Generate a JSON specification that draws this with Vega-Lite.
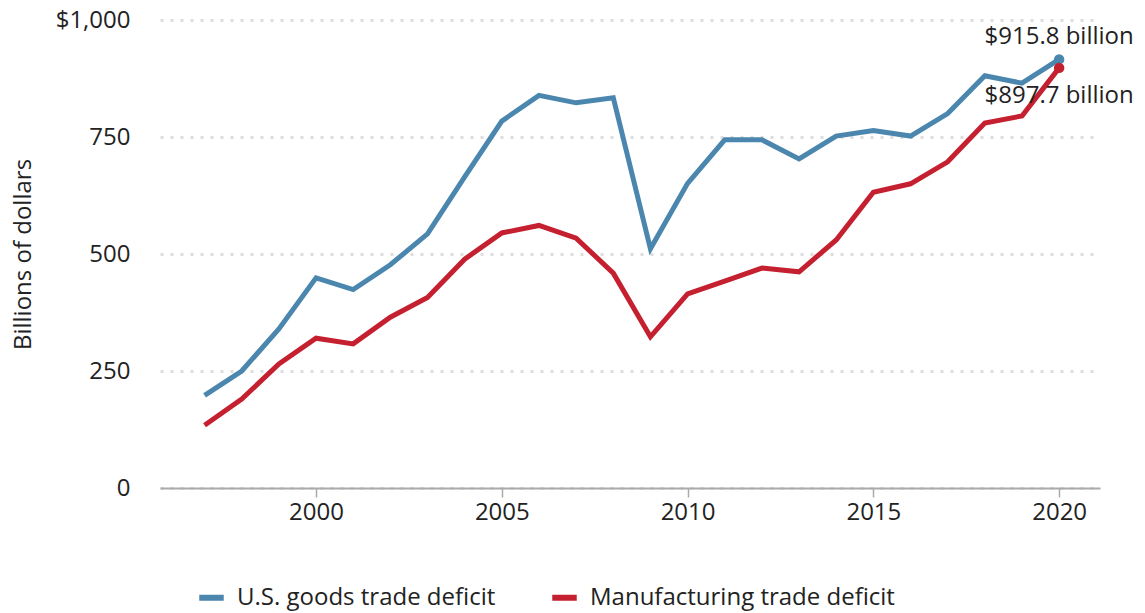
{
  "$schema": "https://vega.github.io/schema/vega-lite/v6.json",
  "autosize": "none",
  "width": 940,
  "height": 468,
  "padding": {"left": 160, "top": 20, "right": 45, "bottom": 125},
  "background": "white",
  "config": {
    "font": "Open Sans",
    "view": {"stroke": null},
    "axis": {"labelFont": "Open Sans", "titleFont": "Open Sans", "labelFontSize": 24, "labelColor": "#222", "titleColor": "#222"}
  },
  "datasets": {
    "trade": [
      {"year": 1997, "series": "U.S. goods trade deficit", "value": 198},
      {"year": 1998, "series": "U.S. goods trade deficit", "value": 250},
      {"year": 1999, "series": "U.S. goods trade deficit", "value": 340},
      {"year": 2000, "series": "U.S. goods trade deficit", "value": 449},
      {"year": 2001, "series": "U.S. goods trade deficit", "value": 424},
      {"year": 2002, "series": "U.S. goods trade deficit", "value": 477},
      {"year": 2003, "series": "U.S. goods trade deficit", "value": 543},
      {"year": 2004, "series": "U.S. goods trade deficit", "value": 665},
      {"year": 2005, "series": "U.S. goods trade deficit", "value": 784},
      {"year": 2006, "series": "U.S. goods trade deficit", "value": 839},
      {"year": 2007, "series": "U.S. goods trade deficit", "value": 823},
      {"year": 2008, "series": "U.S. goods trade deficit", "value": 834},
      {"year": 2009, "series": "U.S. goods trade deficit", "value": 511},
      {"year": 2010, "series": "U.S. goods trade deficit", "value": 651},
      {"year": 2011, "series": "U.S. goods trade deficit", "value": 744},
      {"year": 2012, "series": "U.S. goods trade deficit", "value": 744},
      {"year": 2013, "series": "U.S. goods trade deficit", "value": 703},
      {"year": 2014, "series": "U.S. goods trade deficit", "value": 752},
      {"year": 2015, "series": "U.S. goods trade deficit", "value": 764},
      {"year": 2016, "series": "U.S. goods trade deficit", "value": 752},
      {"year": 2017, "series": "U.S. goods trade deficit", "value": 800},
      {"year": 2018, "series": "U.S. goods trade deficit", "value": 881},
      {"year": 2019, "series": "U.S. goods trade deficit", "value": 865},
      {"year": 2020, "series": "U.S. goods trade deficit", "value": 915.8},
      {"year": 1997, "series": "Manufacturing trade deficit", "value": 134},
      {"year": 1998, "series": "Manufacturing trade deficit", "value": 190},
      {"year": 1999, "series": "Manufacturing trade deficit", "value": 265},
      {"year": 2000, "series": "Manufacturing trade deficit", "value": 320},
      {"year": 2001, "series": "Manufacturing trade deficit", "value": 308},
      {"year": 2002, "series": "Manufacturing trade deficit", "value": 365},
      {"year": 2003, "series": "Manufacturing trade deficit", "value": 407},
      {"year": 2004, "series": "Manufacturing trade deficit", "value": 489},
      {"year": 2005, "series": "Manufacturing trade deficit", "value": 545},
      {"year": 2006, "series": "Manufacturing trade deficit", "value": 561},
      {"year": 2007, "series": "Manufacturing trade deficit", "value": 534},
      {"year": 2008, "series": "Manufacturing trade deficit", "value": 459},
      {"year": 2009, "series": "Manufacturing trade deficit", "value": 323},
      {"year": 2010, "series": "Manufacturing trade deficit", "value": 415},
      {"year": 2011, "series": "Manufacturing trade deficit", "value": 442},
      {"year": 2012, "series": "Manufacturing trade deficit", "value": 470},
      {"year": 2013, "series": "Manufacturing trade deficit", "value": 462},
      {"year": 2014, "series": "Manufacturing trade deficit", "value": 530},
      {"year": 2015, "series": "Manufacturing trade deficit", "value": 632},
      {"year": 2016, "series": "Manufacturing trade deficit", "value": 650},
      {"year": 2017, "series": "Manufacturing trade deficit", "value": 697},
      {"year": 2018, "series": "Manufacturing trade deficit", "value": 780},
      {"year": 2019, "series": "Manufacturing trade deficit", "value": 795},
      {"year": 2020, "series": "Manufacturing trade deficit", "value": 897.7}
    ],
    "notes": [
      {"year": 2020, "series": "U.S. goods trade deficit", "value": 915.8, "label": "$915.8 billion"},
      {"year": 2020, "series": "Manufacturing trade deficit", "value": 897.7, "label": "$897.7 billion"}
    ]
  },
  "encoding": {
    "x": {
      "field": "year", "type": "quantitative",
      "scale": {"domain": [1995.8, 2021.1], "nice": false, "zero": false},
      "axis": {
        "title": null, "values": [2000, 2005, 2010, 2015, 2020], "format": "d",
        "grid": false, "domainColor": "#aaaaaa", "domainWidth": 2,
        "tickColor": "#aaaaaa", "tickWidth": 1.5, "tickSize": 9, "labelPadding": 3
      }
    },
    "y": {
      "field": "value", "type": "quantitative",
      "scale": {"domain": [0, 1000], "nice": false},
      "axis": {
        "title": "Billions of dollars", "titleFontSize": 24, "titleFontWeight": "normal", "titlePadding": 20,
        "values": [0, 250, 500, 750, 1000],
        "labelExpr": "datum.value == 1000 ? '$1,000' : datum.label",
        "domain": false, "ticks": false, "labelPadding": 30,
        "grid": true, "gridColor": "#dddddd", "gridWidth": 3, "gridDash": [3, 7]
      }
    },
    "color": {
      "field": "series", "type": "nominal",
      "scale": {"domain": ["U.S. goods trade deficit", "Manufacturing trade deficit"], "range": ["#4a86ad", "#c5202f"]},
      "legend": {
        "title": null, "orient": "none", "direction": "horizontal",
        "legendX": 36, "legendY": 562,
        "symbolType": "stroke", "symbolStrokeWidth": 6, "symbolSize": 600,
        "labelFontSize": 24, "labelColor": "#222", "labelFont": "Open Sans", "labelLimit": 0,
        "columnPadding": 44, "labelOffset": 10
      }
    }
  },
  "layer": [
    {
      "data": {"name": "trade"},
      "mark": {"type": "line", "strokeWidth": 5}
    },
    {
      "data": {"name": "notes"},
      "mark": {"type": "point", "filled": true, "size": 110, "opacity": 1}
    },
    {
      "data": {"name": "notes"},
      "transform": [{"filter": "datum.series == 'U.S. goods trade deficit'"}],
      "mark": {"type": "text", "fontSize": 24, "font": "Open Sans", "align": "center", "dy": -22},
      "encoding": {"text": {"field": "label"}, "color": {"value": "#222"}}
    },
    {
      "data": {"name": "notes"},
      "transform": [{"filter": "datum.series == 'Manufacturing trade deficit'"}],
      "mark": {"type": "text", "fontSize": 24, "font": "Open Sans", "align": "center", "dy": 28},
      "encoding": {"text": {"field": "label"}, "color": {"value": "#222"}}
    }
  ]
}
